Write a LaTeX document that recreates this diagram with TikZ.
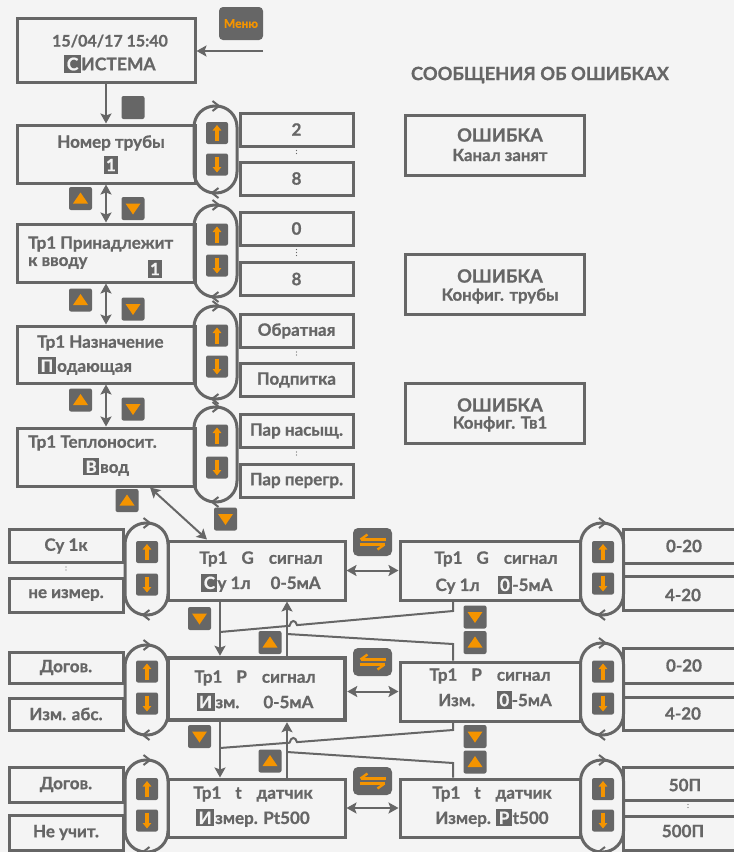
\documentclass[tikz,border=0pt]{standalone}
\usepackage{fontspec}
\setmainfont{Lato}[BoldFeatures={FakeBold=0.9}]
\usetikzlibrary{arrows.meta}
\definecolor{bg}{RGB}{244,244,244}
\definecolor{lg}{RGB}{102,102,102}
\definecolor{og}{RGB}{244,148,0}
\newcommand\txt{\fontsize{17}{19}\selectfont\bfseries}
\newcommand\hlt[1]{{\setlength{\fboxsep}{2.4pt}\colorbox{lg}{\textcolor{bg}{\vphantom{Н}#1}}}}
\newcommand\ubtn[3]{\node[btn] (#1) at (#2,#3) {};
  \draw[oar] ([yshift=-8pt]#1.center) -- ([yshift=8pt]#1.center);}
\newcommand\dbtn[3]{\node[btn] (#1) at (#2,#3) {};
  \draw[oar] ([yshift=8pt]#1.center) -- ([yshift=-8pt]#1.center);}
\newcommand\tup[3]{\node[tbtn] (#1) at (#2,#3) {};
  \fill[og] ([shift={(-7.5pt,-5pt)}]#1.center) -- ([shift={(7.5pt,-5pt)}]#1.center) -- ([shift={(0pt,6pt)}]#1.center) -- cycle;}
\newcommand\tdn[3]{\node[tbtn] (#1) at (#2,#3) {};
  \fill[og] ([shift={(-7.5pt,5pt)}]#1.center) -- ([shift={(7.5pt,5pt)}]#1.center) -- ([shift={(0pt,-6pt)}]#1.center) -- cycle;}
\newcommand\chev[1]{%
  \draw[lg, line width=2pt] ([shift={(-3pt,5pt)}]#1.north) -- ([shift={(3.5pt,0pt)}]#1.north) -- ([shift={(-3pt,-5pt)}]#1.north);
  \draw[lg, line width=2pt] ([shift={(3pt,5pt)}]#1.south) -- ([shift={(-3.5pt,0pt)}]#1.south) -- ([shift={(3pt,-5pt)}]#1.south);}
\newcommand\swp[3]{\node[sbtn] (#1) at (#2,#3) {};
  \draw[og, line width=2.4pt] ([shift={(-12pt,2.5pt)}]#1.center) -- ([shift={(13pt,2.5pt)}]#1.center);
  \draw[og, line width=2.4pt] ([shift={(-12pt,2.5pt)}]#1.center) -- ([shift={(-5pt,7.5pt)}]#1.center);
  \draw[og, line width=2.4pt] ([shift={(-13pt,-2.5pt)}]#1.center) -- ([shift={(12pt,-2.5pt)}]#1.center);
  \draw[og, line width=2.4pt] ([shift={(12pt,-2.5pt)}]#1.center) -- ([shift={(5pt,-7.5pt)}]#1.center);}
\newcommand\dotsep[2]{\draw[lg, line width=1.3pt, line cap=round, dash pattern=on 0pt off 3pt, shorten <=3pt, shorten >=5pt] (#1.south) -- (#2.north);}
\begin{document}
\begin{tikzpicture}[x=1pt,y=-1pt,
  mainbox/.style={draw=lg, line width=3pt, inner sep=0pt},
  optbox/.style={draw=lg, line width=3pt, inner sep=0pt, minimum height=33pt, text=lg, font=\txt},
  ovalbox/.style={draw=lg, line width=3pt, rounded corners=21pt, minimum width=43pt, outer sep=0pt, inner sep=0pt},
  btn/.style={fill=lg, rounded corners=2pt, minimum width=22pt, minimum height=22pt, inner sep=0pt},
  tbtn/.style={fill=lg, rounded corners=2pt, minimum width=23pt, minimum height=23pt, inner sep=0pt},
  sbtn/.style={fill=lg, rounded corners=5pt, minimum width=39pt, minimum height=28pt, inner sep=0pt},
  oar/.style={og, line width=3.2pt, -{Triangle[length=5.5pt,width=8.5pt]}},
  conn/.style={draw=lg, line width=2pt, -{Stealth[length=10pt,width=11pt,inset=2pt]}},
  conn2/.style={draw=lg, line width=2pt, {Stealth[length=10pt,width=11pt,inset=2pt]}-{Stealth[length=10pt,width=11pt,inset=2pt]}},
  wire/.style={draw=lg, line width=2pt},
  lbl/.style={text=lg, font=\txt, inner sep=0pt},
  ttl/.style={text=lg, font=\fontsize{18.3}{20}\selectfont\bfseries, inner sep=0pt},
  sub/.style={text=lg, font=\fontsize{16.8}{19}\selectfont\bfseries, inner sep=0pt}]
\fill[bg] (0,0) rectangle (734,852);
\useasboundingbox (0,0) rectangle (734,852);

% ---------- upper column ----------
\node[mainbox, minimum width=178pt, minimum height=64pt] (sys) at (106,50) {};
\node[lbl, font=\fontsize{16}{18}\selectfont\bfseries] (systa) at (110,41) {15/04/17 15:40};
\node[lbl, font=\fontsize{17.5}{19}\selectfont\bfseries] (systb) at (110,64) {\hlt{С}\hspace{0.5pt}ИСТЕМА};
\node[fill=lg, rounded corners=4pt, minimum width=44pt, minimum height=33pt, inner sep=0pt, text=og, font=\fontsize{12}{13}\selectfont\bfseries] (menu) at (241,23.5) {Меню};
\coordinate (menuend) at (263,51);
\node[tbtn] (blank) at (133,107.5) {};

\node[mainbox, minimum width=178pt, minimum height=58pt] (num) at (106,154) {};
\node[lbl] (numa) at (111,143) {Номер трубы};
\node[lbl] (numb) at (111,165) {\hlt{1}};

\node[mainbox, minimum width=178pt, minimum height=58pt] (own) at (106,253) {};
\node[lbl, anchor=west] (owna) at (28,244) {Тр1 Принадлежит};
\node[lbl, anchor=west] (ownb) at (28,263) {к вводу};
\node[lbl] (ownc) at (155,269) {\hlt{1}};

\node[mainbox, minimum width=178pt, minimum height=57pt] (pur) at (106,354.5) {};
\node[lbl, anchor=west] (pura) at (37,343) {Тр1 Назначение};
\node[lbl, anchor=west] (purb) at (38,366) {\hlt{П}\hspace{1.5pt}одающая};

\node[mainbox, minimum width=178pt, minimum height=58pt] (car) at (106,457) {};
\node[lbl, anchor=west] (cara) at (28,443) {Тр1 Теплоносит.};
\node[lbl, anchor=west] (carb) at (83,467) {\hlt{В}\hspace{1pt}вод};

% ovals rows 1-4
\node[ovalbox, minimum height=87pt] (o1) at (215.5,149.5) {}; \chev{o1}
\node[ovalbox, minimum height=92pt] (o2) at (215.5,251) {}; \chev{o2}
\node[ovalbox, minimum height=93pt] (o3) at (215.5,352.5) {}; \chev{o3}
\node[ovalbox, minimum height=95pt] (o4) at (215.5,454.5) {}; \chev{o4}
\ubtn{b1u}{217}{133} \dbtn{b1d}{217}{164.5}
\ubtn{b2u}{217}{234.5} \dbtn{b2d}{217}{265.5}
\ubtn{b3u}{217}{335.5} \dbtn{b3d}{217}{366.5}
\ubtn{b4u}{217}{435.5} \dbtn{b4d}{217}{467.5}

% option boxes rows 1-4
\node[optbox, minimum width=113pt] (r1a) at (296.5,129.5) {2};
\node[optbox, minimum width=113pt] (r1b) at (296.5,178.5) {8};
\node[optbox, minimum width=113pt] (r2a) at (296.5,228.5) {0};
\node[optbox, minimum width=113pt] (r2b) at (296.5,279) {8};
\node[optbox, minimum width=113pt] (r3a) at (296.5,331) {Обратная};
\node[optbox, minimum width=113pt] (r3b) at (296.5,380) {Подпитка};
\node[optbox, minimum width=113pt] (r4a) at (296.5,431) {Пар насыщ.};
\node[optbox, minimum width=113pt] (r4b) at (296.5,480.5) {Пар перегр.};
\dotsep{r1a}{r1b} \dotsep{r2a}{r2b} \dotsep{r3a}{r3b} \dotsep{r4a}{r4b}

% step buttons between rows
\tup{s1u}{80.5}{198.5} \tdn{s1d}{133}{208.5}
\tup{s2u}{80.5}{300} \tdn{s2d}{133}{309}
\tup{s3u}{80.5}{400} \tdn{s3d}{133}{409}
\tup{s4u}{127}{500.5} \tdn{s4d}{225.5}{519}

% ---------- error messages ----------
\node[ttl] (errt) at (540,75) {СООБЩЕНИЯ ОБ ОШИБКАХ};
\node[mainbox, minimum width=179pt, minimum height=60pt] (e1) at (494.5,145) {};
\node[ttl] (e1a) at (500,135) {ОШИБКА};
\node[sub] (e1b) at (500,155) {Канал занят};
\node[mainbox, minimum width=179pt, minimum height=60pt] (e2) at (494.5,284) {};
\node[ttl] (e2a) at (500,276) {ОШИБКА};
\node[sub] (e2b) at (500,296) {Конфиг. трубы};
\node[mainbox, minimum width=179pt, minimum height=60pt] (e3) at (494.5,413) {};
\node[ttl] (e3a) at (500,405) {ОШИБКА};
\node[sub] (e3b) at (500,424) {Конфиг. Тв1};

% ---------- lower block ----------
\node[mainbox, minimum width=177pt, minimum height=59pt] (GL) at (256.5,570.5) {};
\node[mainbox, line width=4.5pt, minimum width=177pt, minimum height=62pt] (PL) at (256.5,689) {};
\node[mainbox, minimum width=177pt, minimum height=58pt] (TL) at (256.5,808) {};
\node[mainbox, minimum width=180pt, minimum height=59pt] (GR) at (490,570.5) {};
\node[mainbox, minimum width=180pt, minimum height=59pt] (PR) at (490,691.5) {};
\node[mainbox, minimum width=180pt, minimum height=58pt] (TR) at (490,808) {};

\node[lbl] (gla) at (261,559) {Тр1\hspace{14pt}G\hspace{15pt}сигнал};
\node[lbl] (glb) at (261,583) {\hlt{С}у 1л\hspace{20pt}0-5мА};
\node[lbl] (pla) at (255,678) {Тр1\hspace{14pt}P\hspace{15pt}сигнал};
\node[lbl] (plb) at (255,702) {\hlt{И}\hspace{1pt}зм.\hspace{24pt}0-5мА};
\node[lbl] (tla) at (253,794) {Тр1\hspace{14pt}t\hspace{15pt}датчик};
\node[lbl] (tlb) at (253,818) {\hlt{И}\hspace{1pt}змер. Pt500};
\node[lbl] (gra) at (496,559) {Тр1\hspace{14pt}G\hspace{15pt}сигнал};
\node[lbl] (grb) at (494,585) {Су 1л\hspace{18pt}\hlt{0}-5мА};
\node[lbl] (pra) at (490,676) {Тр1\hspace{14pt}P\hspace{15pt}сигнал};
\node[lbl] (prb) at (495,700) {Изм.\hspace{22pt}\hlt{0}-5мА};
\node[lbl] (tra) at (492,794) {Тр1\hspace{14pt}t\hspace{15pt}датчик};
\node[lbl] (trb) at (492,818) {Измер. \hlt{P}\hspace{1pt}t500};

% left ovals and options
\node[ovalbox, minimum height=92pt] (lo1) at (146.5,569) {}; \chev{lo1}
\node[ovalbox, minimum height=90pt] (lo2) at (146.5,690) {}; \chev{lo2}
\node[ovalbox, minimum height=92pt] (lo3) at (146.5,806) {}; \chev{lo3}
\ubtn{lb1u}{147}{552} \dbtn{lb1d}{147}{584.5}
\ubtn{lb2u}{147}{671.5} \dbtn{lb2d}{147}{703.5}
\ubtn{lb3u}{147}{789} \dbtn{lb3d}{147}{820.5}
\node[optbox, minimum width=114pt] (l1a) at (66,546) {Су 1к};
\node[optbox, minimum width=114pt, minimum height=34pt] (l1b) at (66,595) {не измер.};
\node[optbox, minimum width=114pt, minimum height=31pt] (l2a) at (66,667.5) {Догов.};
\node[optbox, minimum width=114pt, minimum height=32pt] (l2b) at (66,714) {Изм. абс.};
\node[optbox, minimum width=114pt, minimum height=35pt] (l3a) at (66,784.5) {Догов.};
\node[optbox, minimum width=114pt, minimum height=35pt] (l3b) at (66,832.5) {Не учит.};
\dotsep{l1a}{l1b}

% right ovals and options
\node[ovalbox, minimum height=92pt] (ro1) at (602,569) {}; \chev{ro1}
\node[ovalbox, minimum height=92pt] (ro2) at (602,689) {}; \chev{ro2}
\node[ovalbox, minimum height=92pt] (ro3) at (602,806) {}; \chev{ro3}
\ubtn{rb1u}{603}{552} \dbtn{rb1d}{603}{583.5}
\ubtn{rb2u}{603}{671.5} \dbtn{rb2d}{603}{703.5}
\ubtn{rb3u}{603}{789} \dbtn{rb3d}{603}{820.5}
\node[optbox, minimum width=130pt, minimum height=34pt] (q1a) at (688,546) {};
\node[lbl] (q1at) at (684,546) {0-20};
\node[optbox, minimum width=130pt, minimum height=34pt] (q1b) at (688,593) {};
\node[lbl] (q1bt) at (683,595) {4-20};
\node[optbox, minimum width=130pt, minimum height=35pt] (q2a) at (688,665.5) {};
\node[lbl] (q2at) at (684,665.5) {0-20};
\node[optbox, minimum width=130pt, minimum height=33pt] (q2b) at (688,713.5) {};
\node[lbl] (q2bt) at (683,713.5) {4-20};
\node[optbox, minimum width=130pt, minimum height=33pt] (q3a) at (688,783.5) {};
\node[lbl] (q3at) at (685,785) {50П};
\node[optbox, minimum width=130pt, minimum height=34pt] (q3b) at (688,833) {};
\node[lbl] (q3bt) at (683,831) {500П};
\dotsep{q3a}{q3b}

% swap buttons
\swp{sw1}{372.5}{542} \swp{sw2}{372.5}{662} \swp{sw3}{372.5}{781}

% step buttons lower block
\tdn{d1}{199.5}{618.5} \tup{u1}{270}{642.5}
\tdn{d2}{199.5}{736.5} \tup{u2}{270}{761}
\tdn{rd1}{475}{617} \tup{ru1}{475}{642.5}
\tdn{rd2}{475}{736.5} \tup{ru2}{475}{762}

% ---------- connectors ----------
\coordinate (xa) at (150,0); \coordinate (xb) at (207,0);
\coordinate (x220) at (220,0); \coordinate (x287) at (287,0); \coordinate (x453) at (453,0);
\draw[conn] (menuend) -- (sys.east |- menuend);
\draw[conn] (sys.south) -- (num.north);
\draw[conn2] (num.south) -- (own.north);
\draw[conn2] (own.south) -- (pur.north);
\draw[conn2] (pur.south) -- (car.north);
\draw[conn2] (car.south -| xa) -- (GL.north -| xb);
\draw[conn2] (GL.east) -- (GR.west);
\draw[conn2] (PL.east |- PR.west) -- (PR.west);
\draw[conn2] (TL.east |- TR.west) -- (TR.west);

\draw[conn] (GL.south -| x220) -- (PL.north -| x220);
\draw[conn] (PL.north -| x287) -- (GL.south -| x287);
\draw[conn] (PL.south -| x220) -- (TL.north -| x220);
\draw[conn] (TL.north -| x287) -- (PL.south -| x287);

\coordinate (j1) at (220,632); \coordinate (j2) at (287,634);
\coordinate (j3) at (220,748); \coordinate (j4) at (287,752);
\draw[wire] (GR.south -| x453) -- (453,611) -- (297,625.1) .. controls (295.5,619.5) and (291,619.5) .. (289.5,625.8) -- (j1);
\draw[wire] (PR.north -| x453) -- (453,644) -- (j2);
\draw[wire] (PR.south -| x453) -- (453,730) -- (297,742.1) .. controls (295.5,736.5) and (291,736.5) .. (289.5,742.7) -- (j3);
\draw[wire] (TR.north -| x453) -- (453,763) -- (j4);
\end{tikzpicture}
\end{document}
